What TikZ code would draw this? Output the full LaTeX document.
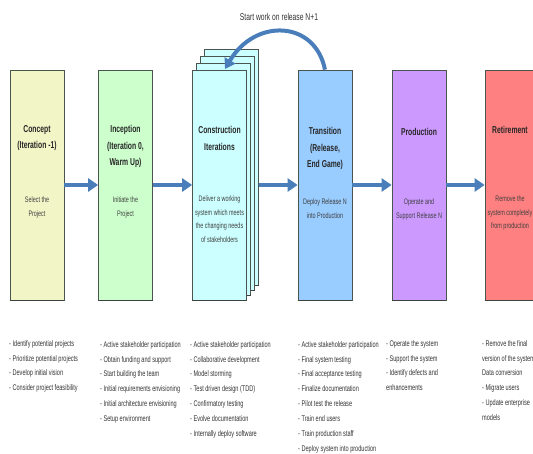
\documentclass[tikz,border=0pt]{standalone}
\usepackage{fontspec}
\setmainfont{Liberation Sans}[FakeStretch=0.68]
\usetikzlibrary{arrows.meta}
\definecolor{cConcept}{HTML}{F2F5C6}
\definecolor{cIncept}{HTML}{CCFFCC}
\definecolor{cConst}{HTML}{CCFFFF}
\definecolor{cTrans}{HTML}{99CCFF}
\definecolor{cProd}{HTML}{CC99FF}
\definecolor{cRetire}{HTML}{FF8080}
\definecolor{cArrow}{HTML}{4A7EBB}
\definecolor{cEdge}{HTML}{4A5550}
\definecolor{cText}{HTML}{333333}
\begin{document}
\begin{tikzpicture}[x=1pt,y=-1pt,
  phase/.style={draw=cEdge, line width=0.7pt, minimum width=54pt, minimum height=230pt, inner sep=0pt,
    append after command={(\tikzlastnode.south west) edge[draw=cEdge!80!black, line width=1.6pt] (\tikzlastnode.south east)}},
  layer/.style={phase, fill=cConst},
  ttl/.style={font=\fontsize{10}{16.5}\selectfont\bfseries, align=center, text=black!85, inner sep=0pt},
  dsc/.style={font=\fontsize{8}{13.5}\selectfont, align=center, text=black!75, inner sep=0pt},
  lst/.style={font=\fontsize{8.2}{14.9}\selectfont, align=left, text=cText, anchor=north west, inner sep=0pt},
  flow/.style={draw=cArrow, line width=4.5pt, -{Triangle[length=10pt,width=13pt]}}
]
\useasboundingbox (0,0) rectangle (533,454);
\clip (0,0) rectangle (533,454);

% phase boxes
\node[phase, fill=cConcept] (concept) at (37,185) {};
\node[phase, fill=cIncept] (inception) at (125.5,185) {};
\node[layer, minimum height=236pt] (cons3) at (231.5,167) {};
\node[layer, minimum height=234pt] (cons2) at (227.5,173) {};
\node[layer, minimum height=232pt] (cons1) at (223.5,179) {};
\node[layer] (construction) at (219.5,185) {};
\node[phase, fill=cTrans] (transition) at (325,185) {};
\node[phase, fill=cProd] (production) at (419,185) {};
\node[phase, fill=cRetire] (retirement) at (512,185) {};

% titles
\node[ttl] (conceptT) at (37,138) {Concept\\(Iteration -1)};
\node[ttl] (inceptionT) at (125.5,146.5) {Inception\\(Iteration 0,\\Warm Up)};
\node[ttl] (constructionT) at (219.5,138.5) {Construction\\Iterations};
\node[ttl] (transitionT) at (325,148.5) {Transition\\(Release,\\End Game)};
\node[ttl] (productionT) at (419,132) {Production};
\node[ttl] (retirementT) at (510,130) {Retirement};

% descriptions
\node[dsc] (conceptD) at (37,207.5) {Select the\\Project};
\node[dsc] (inceptionD) at (125.5,207.5) {Initiate the\\Project};
\node[dsc] (constructionD) at (219.5,219) {Deliver a working\\system which meets\\the changing needs\\of stakeholders};
\node[dsc] (transitionD) at (325,208.5) {Deploy Release N\\into Production};
\node[dsc] (productionD) at (419,209.5) {Operate and\\Support Release N};
\node[dsc] (retirementD) at (510,213) {Remove the\\system completely\\from production};

% flow arrows
\draw[flow] (concept.east) -- (inception.west);
\draw[flow] (inception.east) -- (construction.west);
\draw[flow] (cons3.east |- transition.west) -- (transition.west);
\draw[flow] (transition.east) -- (production.west);
\draw[flow] (production.east) -- (retirement.west);

% loop back arrow
\coordinate (loopEnd) at (225,69);
\draw[draw=cArrow, line width=4pt, -{Triangle[length=10pt,width=12pt]}]
  (transition.north) .. controls (315,20) and (255,18) .. (loopEnd);
\node[font=\fontsize{9.9}{10}\selectfont, text=black!80, inner sep=0pt] (loopLabel) at (279,17) {Start work on release N+1};

% activity lists
\node[lst] (conceptL) at (9,340) {- Identify potential projects\\- Prioritize potential projects\\- Develop initial vision\\- Consider project feasibility};
\node[lst] (inceptionL) at (100,341) {- Active stakeholder participation\\- Obtain funding and support\\- Start building the team\\- Initial requirements envisioning\\- Initial architecture envisioning\\- Setup environment};
\node[lst] (constructionL) at (190,341) {- Active stakeholder participation\\- Collaborative development\\- Model storming\\- Test driven design (TDD)\\- Confirmatory testing\\- Evolve documentation\\- Internally deploy software};
\node[lst] (transitionL) at (298,341) {- Active stakeholder participation\\- Final system testing\\- Final acceptance testing\\- Finalize documentation\\- Pilot test the release\\- Train end users\\- Train production staff\\- Deploy system into production};
\node[lst] (productionL) at (386,340) {- Operate the system\\- Support the system\\- Identify defects and\\enhancements};
\node[lst] (retirementL) at (482,340) {- Remove the final\\version of the system\\Data conversion\\- Migrate users\\- Update enterprise\\models};
\end{tikzpicture}
\end{document}
